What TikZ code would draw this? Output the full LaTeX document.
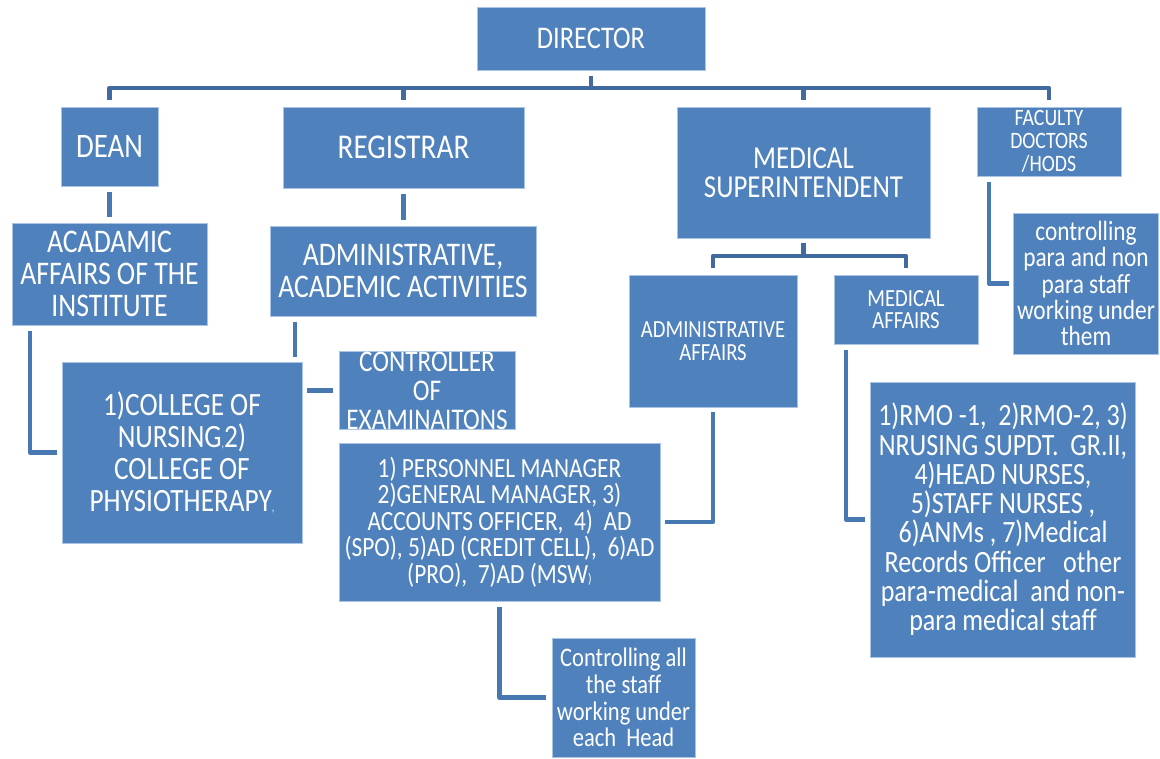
\documentclass[tikz,border=0pt]{standalone}
\usepackage{fontspec}
\setmainfont[FakeStretch=0.84]{Carlito}
\definecolor{boxblue}{RGB}{79,129,189}
\definecolor{edgeblue}{RGB}{170,196,228}
\definecolor{busblue}{RGB}{65,106,158}
\definecolor{linkblue}{RGB}{72,120,178}
\begin{document}
\begin{tikzpicture}[x=1pt,y=-1pt,
  box/.style={fill=boxblue, draw=edgeblue, line width=0.8pt, text=white, align=center, inner sep=0pt},
  fs/.style 2 args={font=\fontsize{#1}{#2}\selectfont},
  wh/.style 2 args={minimum width=#1pt, minimum height=#2pt},
  bus/.style={draw=busblue, line width=4.5pt, line join=round},
  link/.style={draw=linkblue, line width=4.5pt, line join=round}]
\useasboundingbox (0,0) rectangle (1160,759);

\node[box, wh={228}{63}, fs={31.5}{30}] (dir) at (591,38.5) {DIRECTOR};
\node[box, wh={97}{79}, fs={34.3}{32}] (dean) at (109.5,146.5) {DEAN};
\node[box, wh={241}{81}, fs={34.8}{32}] (reg) at (403.5,147.5) {REGISTRAR};
\node[box, wh={253}{131}, fs={32}{29}] (ms) at (803.5,172.5) {MEDICAL\\SUPERINTENDENT};
\node[box, wh={144}{69}, fs={23.5}{23}] (fac) at (1049,141.5) {FACULTY\\DOCTORS\\/HODS};
\node[box, wh={195}{102}, fs={33}{32}] (acad) at (109.5,274) {ACADAMIC\\AFFAIRS OF THE\\INSTITUTE};
\node[box, wh={266}{90}, fs={33}{32}] (admin) at (403,271) {ADMINISTRATIVE,\\ACADEMIC ACTIVITIES};
\node[box, wh={240}{181}, fs={32.5}{32}] (college) at (182,452.5) {1)COLLEGE OF\\NURSING{\fontsize{12}{12}\selectfont,}2)\\COLLEGE OF\\PHYSIOTHERAPY{\fontsize{12}{12}\selectfont,}};
\node[box, wh={176}{75}, fs={30}{29}] (ctrl) at (427,390.5) {CONTROLLER\\OF\\EXAMINAITONS};
\node[box, wh={321}{158}, fs={27.8}{26.5}] (pers) at (499.5,522) {1) PERSONNEL MANAGER\\2)GENERAL MANAGER, 3)\\ACCOUNTS OFFICER,\ \ 4)\ \ AD\\(SPO), 5)AD (CREDIT CELL),\ \ 6)AD\\(PRO),\ \ 7)AD (MSW{\fontsize{14}{14}\selectfont)}};
\node[box, wh={143}{119}, fs={26.8}{26.7}] (call) at (623.5,697.5) {Controlling all\\the staff\\working under\\each\ \ Head};
\node[box, wh={168}{132}, fs={24.6}{22.5}] (aa) at (713,341) {ADMINISTRATIVE\\AFFAIRS};
\node[box, wh={144}{69}, fs={24.6}{22.5}] (maf) at (906,309.5) {MEDICAL\\AFFAIRS};
\node[box, wh={144.5}{141}, fs={27.8}{26.3}] (cpara) at (1086,283.5) {controlling\\para and non\\para staff\\working under\\them};
\node[box, wh={264.5}{275}, fs={31}{29.3}] (rmo) at (1003,519.5) {1)RMO -1,\ \ 2)RMO-2, 3)\\NRUSING SUPDT.\ \ GR.II,\\4)HEAD NURSES,\\5)STAFF NURSES ,\\6)ANMs , 7)Medical\\Records Officer\ \ \ other\\para-medical\ \ and non-\\para medical staff};

\coordinate (busy) at (0,88);
\coordinate (sby) at (0,256);
\draw[bus, shorten <=6pt] (dir.south) -- (dir.south |- busy);
\draw[bus, shorten >=7pt] (dir.south |- busy) -| (dean.north);
\draw[bus, shorten >=7pt] (dir.south |- busy) -| (fac.north);
\draw[bus, shorten >=7pt] (reg.north |- busy) -- (reg.north);
\draw[bus, shorten >=7pt] (ms.north |- busy) -- (ms.north);

\draw[link, shorten <=6pt, shorten >=6pt] (dean.south) -- (acad.north);
\draw[link, shorten <=6pt, shorten >=6pt] (reg.south) -- (reg.south |- admin.north);
\coordinate (xa) at (295,0);
\draw[link, shorten <=6pt, shorten >=5pt] (admin.south -| xa) -- (college.north -| xa);
\coordinate (xb) at (30,0);
\draw[link, shorten <=6pt, shorten >=5pt] (acad.south -| xb) |- (college.west);
\draw[link, shorten <=5pt, shorten >=6pt] (college.east |- ctrl.west) -- (ctrl.west);

\draw[bus, shorten <=5pt] (ms.south) -- (ms.south |- sby);
\draw[bus, shorten >=7pt] (ms.south |- sby) -| (aa.north);
\draw[bus, shorten >=7pt] (ms.south |- sby) -| (maf.north);
\draw[link, shorten <=5pt, shorten >=5pt] (aa.south) |- (pers.east);
\draw[link, shorten <=6pt, shorten >=6pt] (pers.south) |- (call.west);
\coordinate (xc) at (846,0);
\draw[link, shorten <=6pt, shorten >=5pt] (maf.south -| xc) |- (rmo.west);
\coordinate (xd) at (989,0);
\draw[link, shorten <=6pt, shorten >=4pt] (fac.south -| xd) |- (cpara.west);
\end{tikzpicture}
\end{document}
